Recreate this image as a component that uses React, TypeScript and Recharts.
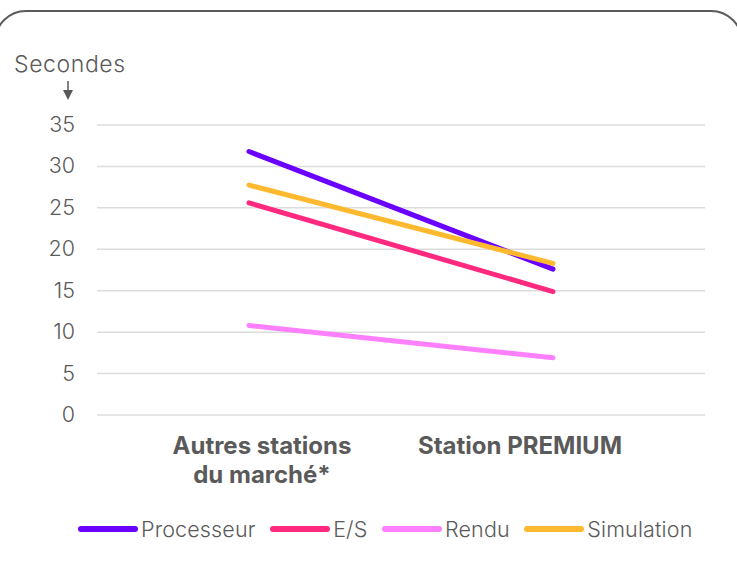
import React from 'react';
import { LineChart, Line, XAxis, YAxis, CartesianGrid, Legend, Label } from 'recharts';

const categories = ['Autres stations\ndu marché*', 'Station PREMIUM'];
const processeur = [31.8, 17.6];
const es = [25.6, 14.9];
const rendu = [10.8, 6.9];
const simulation = [27.75, 18.3];
const yTicks = [0, 5, 10, 15, 20, 25, 30, 35];

const series = [
  { key: 'processeur', name: 'Processeur', color: '#6a00ff' },
  { key: 'es', name: 'E/S', color: '#ff2a7f' },
  { key: 'rendu', name: 'Rendu', color: '#ff80ff' },
  { key: 'simulation', name: 'Simulation', color: '#ffb92e' },
];

const chartData = categories.map((c, i) => ({
  category: c,
  processeur: processeur[i],
  es: es[i],
  rendu: rendu[i],
  simulation: simulation[i],
}));

const FONT = 'Inter, "DejaVu Sans", sans-serif';
const GREY = '#5a5a5a';

// x labels sit a bit off the category centre in the original
const xShift = [13, -33];

const XTick = (props: any) => {
  const { x, y, payload, index } = props;
  const lines = String(payload.value).split('\n');
  const tx = x + (xShift[index] ?? 0);
  return (
    <text x={tx} y={y} textAnchor="middle" fill={GREY} fontFamily={FONT} fontSize={24} fontWeight={700}>
      {lines.map((l, i) => (
        <tspan key={i} x={tx} dy={i === 0 ? 31 : 29}>{l}</tspan>
      ))}
    </text>
  );
};

const YTick = (props: any) => {
  const { y, payload } = props;
  return (
    <text x={75} y={y} dy={7} textAnchor="end" fill={GREY} fontFamily={FONT} fontSize={21.5} fontWeight={300}>
      {payload.value}
    </text>
  );
};

const UnitLabel = () => (
  <g>
    <text x={14} y={72} fill={GREY} fontFamily={FONT} fontSize={23} fontWeight={300} letterSpacing={0.6}>Secondes</text>
    <line x1={68} y1={81} x2={68} y2={91} stroke={GREY} strokeWidth={1.5} />
    <path d="M63,90 L73,90 L68,100 Z" fill={GREY} />
  </g>
);

const LegendContent = () => (
  <div style={{ display: 'flex', alignItems: 'center', fontFamily: FONT, fontSize: 21.5, fontWeight: 300, color: GREY, letterSpacing: 0.15 }}>
    {series.map((s) => (
      <div key={s.key} style={{ display: 'flex', alignItems: 'center', marginRight: 14.5 }}>
        <svg width={60} height={10} style={{ marginRight: 3 }}>
          <line x1={3} y1={5} x2={57} y2={5} stroke={s.color} strokeWidth={6} strokeLinecap="round" />
        </svg>
        <span>{s.name}</span>
      </div>
    ))}
  </div>
);

export default function App() {
  return (
    <div style={{ position: 'fixed', left: 0, top: 0, width: 737, height: 567, overflow: 'hidden', background: '#fff' }}>
      <div
        style={{
          position: 'absolute',
          left: -6,
          top: 10,
          width: 749,
          height: 577,
          boxSizing: 'border-box',
          border: `2px solid ${GREY}`,
          borderRadius: 32,
        }}
      />
      <div style={{ position: 'absolute', left: 0, top: 0 }}>
        <LineChart width={737} height={567} data={chartData} margin={{ top: 125, right: 32, left: 0, bottom: 72 }}>
          <CartesianGrid vertical={false} stroke="#dcdcdc" strokeWidth={1.5} />
          <XAxis
            dataKey="category"
            scale="band"
            axisLine={false}
            tickLine={false}
            height={80}
            interval={0}
            tick={<XTick />}
          />
          <YAxis
            width={97}
            domain={[0, 35]}
            ticks={yTicks}
            axisLine={false}
            tickLine={false}
            tick={<YTick />}
          >
            <Label content={<UnitLabel />} />
          </YAxis>
          <Legend
            verticalAlign="middle"
            align="center"
            layout="horizontal"
            content={<LegendContent />}
            wrapperStyle={{ top: 516, left: 78, width: 'auto', height: 26 }}
          />
          {series.map((s) => (
            <Line
              key={s.key}
              type="linear"
              dataKey={s.key}
              name={s.name}
              stroke={s.color}
              strokeWidth={5}
              strokeLinecap="round"
              dot={false}
              activeDot={false}
              isAnimationActive={false}
            />
          ))}
        </LineChart>
      </div>
    </div>
  );
}
